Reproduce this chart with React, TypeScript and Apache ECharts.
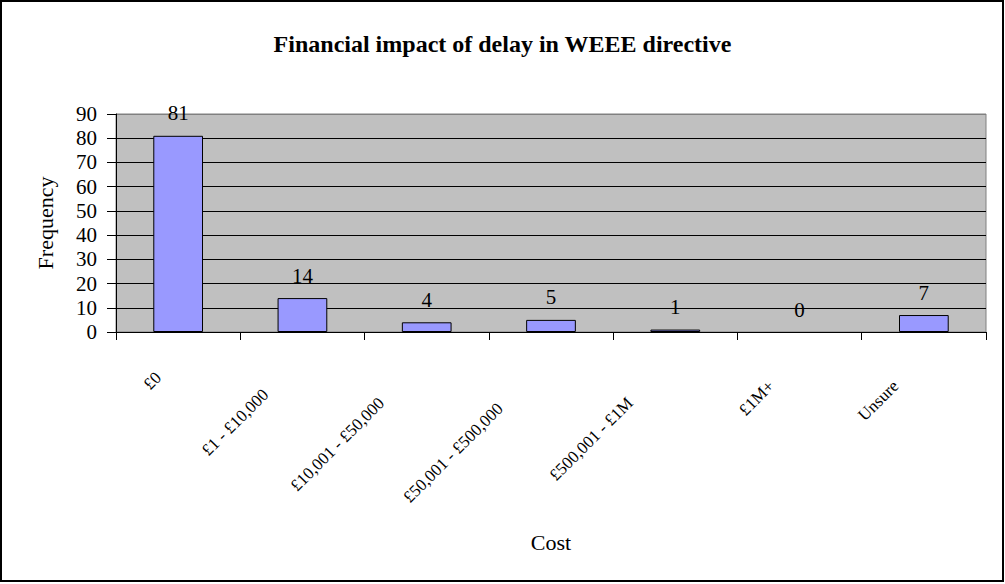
import React, { useEffect, useRef } from "react";
import * as echarts from "echarts";

const categories = [
  "£0",
  "£1 - £10,000",
  "£10,001 - £50,000",
  "£50,001 - £500,000",
  "£500,001 - £1M",
  "£1M+",
  "Unsure",
];
const frequency = [81, 14, 4, 5, 1, 0, 7];
const yMin = 0;
const yMax = 90;
const yStep = 10;
const chartTitle = "Financial impact of delay in WEEE directive";
const xTitle = "Cost";
const yTitle = "Frequency";

// label placement style (shift along text direction, shift across)
const labelShift = [28, 52, 64, 72, 64, 40, 40];
const labelDrop = [0, 0, 0, 0, 12, 12, 6];

const FONT = "'Liberation Serif', 'Times New Roman', serif";

export default function App() {
  const ref = useRef<HTMLDivElement>(null);
  useEffect(() => {
    if (!ref.current) return;
    const chart = echarts.init(ref.current, null, { renderer: "svg" });
    const nLines = (yMax - yMin) / yStep + 1;
    const splitColors: string[] = [];
    for (let i = 0; i < nLines; i++) splitColors.push(i === nLines - 1 ? "#808080" : "#000000");
    chart.setOption({
      animation: false,
      backgroundColor: "#ffffff",
      textStyle: { fontFamily: FONT },
      title: {
        text: chartTitle,
        left: "center",
        top: 27,
        textStyle: { fontFamily: FONT, fontWeight: "bold", fontSize: 24, color: "#000" },
      },
      graphic: [
        {
          type: "rect",
          shape: { x: 1, y: 1, width: 1002, height: 580 },
          style: { fill: "none", stroke: "#000", lineWidth: 2 },
          silent: true,
        },
      ],
      grid: {
        left: 116,
        right: 19,
        top: 114,
        bottom: 252,
        show: true,
        backgroundColor: "#C0C0C0",
        borderColor: "#808080",
        borderWidth: 1,
      },
      xAxis: {
        type: "category",
        data: categories.map((c, i) => ({
          value: c,
          textStyle: { padding: [labelDrop[i], labelShift[i], 0, 0] },
        })),
        boundaryGap: true,
        name: xTitle,
        nameLocation: "middle",
        nameGap: 199,
        nameTextStyle: { fontFamily: FONT, fontSize: 22, color: "#000" },
        axisLine: { show: true, lineStyle: { color: "#000", width: 1 } },
        axisTick: { show: true, length: 8, interval: 0, alignWithLabel: false, lineStyle: { color: "#000" } },
        axisLabel: {
          interval: 0,
          rotate: 45,
          margin: 23,
          fontFamily: FONT,
          fontSize: 17,
          color: "#000",
        },
        splitLine: { show: false },
      },
      yAxis: {
        type: "value",
        min: yMin,
        max: yMax,
        interval: yStep,
        name: yTitle,
        nameLocation: "middle",
        nameGap: 60,
        nameTextStyle: { fontFamily: FONT, fontSize: 22, color: "#000" },
        axisLine: { show: true, lineStyle: { color: "#000", width: 1 } },
        axisTick: { show: true, length: 9, lineStyle: { color: "#000" } },
        axisLabel: { margin: 19, fontFamily: FONT, fontSize: 21, color: "#000" },
        splitLine: { show: true, lineStyle: { color: splitColors, width: 1 } },
      },
      series: [
        {
          type: "bar",
          data: frequency.map((v) =>
            v === 0 ? { value: v, itemStyle: { borderWidth: 0 } } : v
          ),
          barCategoryGap: "60%",
          itemStyle: { color: "#9999FF", borderColor: "#000", borderWidth: 1 },
          label: {
            show: true,
            position: "top",
            distance: 12,
            fontFamily: FONT,
            fontSize: 21,
            color: "#000",
          },
        },
      ],
    });
    return () => chart.dispose();
  }, []);
  return (
    <div
      ref={ref}
      style={{ position: "absolute", left: 0, top: 0, width: 1005, height: 584 }}
    />
  );
}
